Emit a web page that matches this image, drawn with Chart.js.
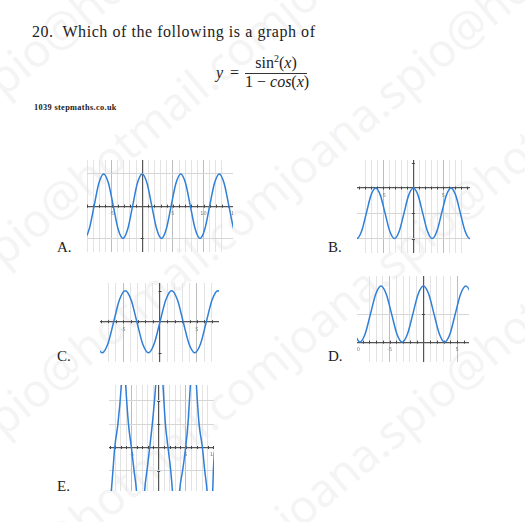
<!DOCTYPE html>
<html>
<head>
<meta charset="utf-8">
<script src="https://cdn.jsdelivr.net/npm/chart.js@4.4.1/dist/chart.umd.min.js"></script>
<style>
  html, body { margin: 0; padding: 0; background: #fff; }
  body { width: 525px; height: 522px; position: relative; overflow: hidden;
         font-family: "Liberation Serif", "DejaVu Serif", serif; color: #222; }
  .wm { position: absolute; left: -10px; font-family: "Open Sans", sans-serif; font-size: 46px;
        line-height: 46px; color: #f4f4f4; white-space: nowrap;
        transform-origin: 0 100%; transform: rotate(-40deg); }
  .txt { position: absolute; white-space: nowrap; font-size: 16px; line-height: 16px; }
  .q { letter-spacing: 0.55px; }
  .lbl { font-size: 15px; line-height: 15px; }
  .frac { text-align: center; width: 62px; }
  .bar { position: absolute; left: 245px; top: 73px; width: 62px; border-top: 1px solid #333; }
  .src { position: absolute; left: 34px; top: 104px; font-size: 8.3px; font-weight: bold;
         line-height: 8px; letter-spacing: 0.35px; }
  canvas { position: absolute; }
</style>
</head>
<body>
<div class="wm" style="top:70px;">spio@hotmail.comjoana.spio@hotmail.comjoana.</div>
<div class="wm" style="top:240px;">spio@hotmail.comjoana.spio@hotmail.comjoana.</div>
<div class="wm" style="top:410px;">spio@hotmail.comjoana.spio@hotmail.comjoana.</div>
<div class="wm" style="top:580px;">spio@hotmail.comjoana.spio@hotmail.comjoana.</div>
<div class="wm" style="top:750px;">spio@hotmail.comjoana.spio@hotmail.comjoana.</div>

<div class="txt q" style="left:32px; top:24px;">20.&nbsp; Which of the following is a graph of</div>
<div class="txt" style="left:216px; top:65px;"><i>y</i></div>
<div class="txt" style="left:230px; top:65px;">=</div>
<div class="txt frac" style="left:245px; top:55px;">sin<sup style="font-size:10px; line-height:0">2</sup>(<i>x</i>)</div>
<div class="bar"></div>
<div class="txt frac" style="left:245px; top:74px;">1 &minus; <i>cos</i>(<i>x</i>)</div>
<div class="src">1039 stepmaths.co.uk</div>

<div class="txt lbl" style="left:57px; top:240px;">A.</div>
<div class="txt lbl" style="left:328px; top:240px;">B.</div>
<div class="txt lbl" style="left:57px; top:349px;">C.</div>
<div class="txt lbl" style="left:328px; top:349px;">D.</div>
<div class="txt lbl" style="left:57px; top:479px;">E.</div>

<canvas id="gA" width="146" height="92" style="left:87px; top:160px;"></canvas>
<canvas id="gB" width="113" height="93" style="left:357px; top:160px;"></canvas>
<canvas id="gC" width="119" height="79" style="left:100px; top:283px;"></canvas>
<canvas id="gD" width="112" height="86" style="left:357px; top:276px;"></canvas>
<canvas id="gE" width="105" height="106" style="left:109px; top:385px;"></canvas>

<script>
// x positions (quarter periods) shared by the four wave graphs
const X_STEPS = [-10.21, -9.42, -8.64, -7.85, -7.07, -6.28, -5.50, -4.71, -3.93, -3.14, -2.36, -1.57,
  -0.79, 0, 0.79, 1.57, 2.36, 3.14, 3.93, 4.71, 5.50, 6.28, 7.07, 7.85, 8.64, 9.42, 10.21,
  10.99, 11.78, 12.57, 13.35, 14.14, 14.92, 15.71];

// values
const A_Y = [-0.71, -1, -0.71, 0, 0.71, 1, 0.71, 0, -0.71, -1, -0.71, 0, 0.71, 1, 0.71, 0, -0.71,
  -1, -0.71, 0, 0.71, 1, 0.71, 0, -0.71, -1, -0.71, 0, 0.71, 1, 0.71, 0, -0.71, -1];
const B_Y = [-1.71, -2, -1.71, -1, -0.29, 0, -0.29, -1, -1.71, -2, -1.71, -1, -0.29, 0, -0.29, -1,
  -1.71, -2, -1.71, -1, -0.29, 0, -0.29, -1, -1.71, -2, -1.71, -1, -0.29, 0, -0.29, -1, -1.71, -2];
const C_Y = [0.71, 0, -0.71, -1, -0.71, 0, 0.71, 1, 0.71, 0, -0.71, -1, -0.71, 0, 0.71, 1, 0.71,
  0, -0.71, -1, -0.71, 0, 0.71, 1, 0.71, 0, -0.71, -1, -0.71, 0, 0.71, 1, 0.71, 0];
const D_Y = [0.29, 0, 0.29, 1, 1.71, 2, 1.71, 1, 0.29, 0, 0.29, 1, 1.71, 2, 1.71, 1, 0.29, 0,
  0.29, 1, 1.71, 2, 1.71, 1, 0.29, 0, 0.29, 1, 1.71, 2, 1.71, 1, 0.29, 0];

// graph E: separate branches between the asymptotes
const E_BRANCH_X = [
  [-8.85, -8.68, -8.39, -8.07, -7.47, -6.85, -6.70],
  [-6.21, -6.06, -5.56, -5.01, -4.53, -4.09, -3.95],
  [-2.70, -2.57, -2.14, -1.65, -1.16, -0.55, -0.40],
  [0.65, 0.79, 1.22, 1.71, 2.20, 2.51, 2.65],
  [3.70, 3.85, 4.40, 4.95, 5.38, 5.81, 5.95],
  [6.78, 6.92, 7.40, 8.02, 8.44, 8.86, 9.00],
  [9.80, 9.92, 10.05, 10.30]
];
const E_BRANCH_Y = [
  [-2.4, -1.83, -0.97, 0, 1.03, 2.67, 3.3],
  [3.3, 2.67, 1.03, 0, -0.97, -1.83, -2.4],
  [-2.4, -1.83, -0.97, 0, 1.03, 2.67, 3.3],
  [3.3, 2.67, 1.03, 0, -0.97, -1.83, -2.4],
  [-2.4, -1.83, -0.97, 0, 1.03, 2.67, 3.3],
  [3.3, 2.67, 1.03, 0, -0.97, -1.83, -2.4],
  [-2.4, -1.83, -0.9, 0]
];

// numbers printed along the x axis
const A_TICKS = [-5, 5, 10, 15];
const B_TICKS = [-5, 5];
const C_TICKS = [-5, 5];
const D_TICKS = [-10, -5, 5];
const E_TICKS = [-10, -5, 5, 10];

const WAVE_BLUE = '#2f7fd9';

// small tick marks on both axes and the little numbers under the x axis
const axisMarks = {
  id: 'axisMarks',
  beforeDatasetsDraw(chart, args, opts) {
    const { ctx } = chart;
    const x = chart.scales.x, y = chart.scales.y;
    const x0 = x.getPixelForValue(0), y0 = y.getPixelForValue(0);
    ctx.save();
    ctx.strokeStyle = '#444';
    ctx.lineWidth = 1;
    for (let v = Math.ceil(x.min); v <= x.max; v++) {
      if (v === 0) continue;
      const px = Math.round(x.getPixelForValue(v)) + 0.5;
      ctx.beginPath(); ctx.moveTo(px, y0 - 1.5); ctx.lineTo(px, y0 + 1.5); ctx.stroke();
    }
    for (let v = Math.ceil(y.min); v <= y.max; v++) {
      if (v === 0) continue;
      const py = Math.round(y.getPixelForValue(v)) + 0.5;
      ctx.beginPath(); ctx.moveTo(x0 - 1.5, py); ctx.lineTo(x0 + 1.5, py); ctx.stroke();
    }
    ctx.fillStyle = '#777';
    ctx.font = '5px "DejaVu Sans"';
    ctx.textAlign = 'center';
    ctx.textBaseline = 'top';
    (opts.labels || []).forEach(v => ctx.fillText(String(v), x.getPixelForValue(v), y0 + 5));
    ctx.restore();
  }
};

function gridColor(c, isX) {
  const v = c.tick ? c.tick.value : NaN;
  if (v === 0) return '#555';
  if (!Number.isInteger(v)) return 'rgba(0,0,0,0)';
  if (isX) return v % 5 === 0 ? '#bdbdbd' : '#e3e3e3';
  return '#d6d6d6';
}

function axis(min, max, isX) {
  return {
    type: 'linear', min: min, max: max,
    ticks: { display: false, stepSize: 1 },
    border: { display: false },
    grid: {
      drawTicks: false,
      color: c => gridColor(c, isX),
      lineWidth: c => (c.tick && c.tick.value === 0 ? 1.2 : 1)
    }
  };
}

function curve(xs, ys) {
  return {
    data: xs.map((v, i) => ({ x: v, y: ys[i] })),
    borderColor: WAVE_BLUE,
    borderWidth: 1.5,
    pointRadius: 0,
    fill: false,
    cubicInterpolationMode: 'monotone'
  };
}

function graph(id, xr, yr, datasets, labels) {
  return new Chart(document.getElementById(id), {
    type: 'line',
    data: { datasets: datasets },
    options: {
      responsive: false,
      animation: false,
      layout: { padding: 0 },
      plugins: { legend: { display: false }, tooltip: { enabled: false }, axisMarks: { labels: labels } },
      scales: { x: axis(xr[0], xr[1], true), y: axis(yr[0], yr[1], false) }
    },
    plugins: [axisMarks]
  });
}

graph('gA', [-9.0, 14.8], [-1.42, 1.43], [curve(X_STEPS, A_Y)], A_TICKS);
graph('gB', [-9.4, 9.45], [-2.57, 1.11], [curve(X_STEPS, B_Y)], B_TICKS);
graph('gC', [-8.14, 8.0], [-1.30, 1.25], [curve(X_STEPS, C_Y)], C_TICKS);
graph('gD', [-9.84, 6.75], [-0.71, 2.36], [curve(X_STEPS, D_Y)], D_TICKS);
graph('gE', [-9.12, 10.15], [-1.86, 2.67], E_BRANCH_X.map((xs, i) => curve(xs, E_BRANCH_Y[i])), E_TICKS);
</script>
</body>
</html>
